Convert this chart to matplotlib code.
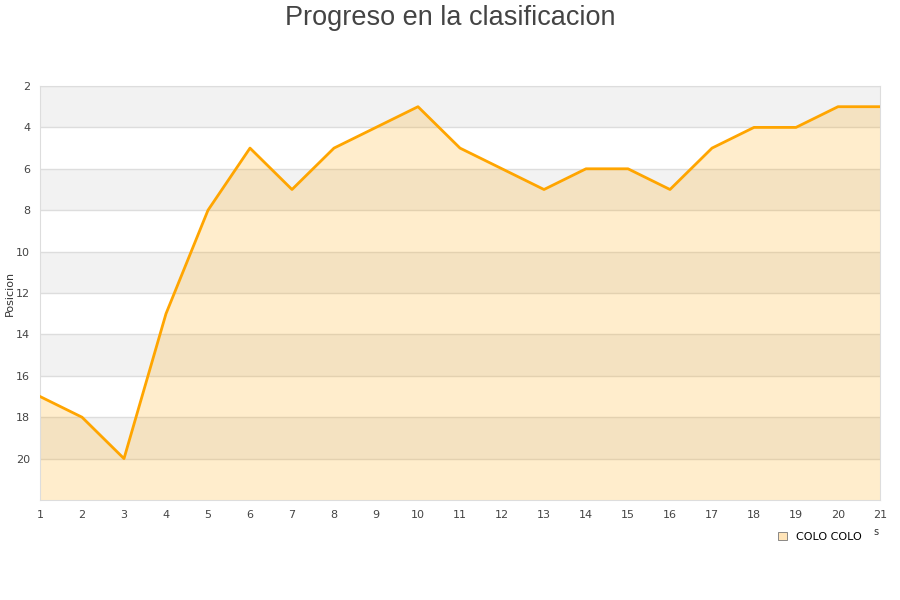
import matplotlib
matplotlib.use("Agg")
import matplotlib.pyplot as plt
from matplotlib.patches import Patch

# Jornadas y posicion de COLO COLO
jornadas = list(range(1, 22))
posicion = [17, 18, 20, 13, 8, 5, 7, 5, 4, 3, 5, 6, 7, 6, 6, 7, 5, 4, 4, 3, 3]
y_ticks = [2, 4, 6, 8, 10, 12, 14, 16, 18, 20]

fig = plt.figure(figsize=(9, 6), dpi=100)
ax = fig.add_axes([40 / 900, 1 - 500 / 600, 840 / 900, 414 / 600])

# alternating background bands
for k, lo in enumerate(range(2, 22, 2)):
    if k % 2 == 0:
        ax.axhspan(lo, lo + 2, color="#f2f2f2", zorder=0, lw=0)

ax.fill_between(jornadas, posicion, 22, color="#ffa500", alpha=0.2, lw=0, zorder=2)
ax.plot(jornadas, posicion, color="#ffa500", lw=2, zorder=3)

ax.set_xlim(1, 21)
ax.set_ylim(22, 2)
ax.set_xticks(jornadas)
ax.set_yticks(y_ticks)
ax.grid(axis="y", color="#dddddd", lw=1, zorder=1)
ax.tick_params(length=0, labelsize=8, colors="#444444", pad=7)
for s in ["top", "right", "bottom", "left"]:
    ax.spines[s].set_color("#dddddd")
ax.set_ylabel("Posicion", fontsize=8, color="#333333")
ax.yaxis.set_label_coords(-25 / 840, 0.5)

fig.text(0.5, 0.992, "Progreso en la clasificacion", ha="center", va="top",
         fontsize=19.5, color="#444444", family="Liberation Sans")

leg = fig.legend(handles=[Patch(facecolor="#ffe4b8", edgecolor="#777777", lw=0.6)],
                 labels=["COLO COLO"], loc="center", bbox_to_anchor=(0.911, 0.105),
                 frameon=False, fontsize=8, handlelength=0.8, handleheight=0.8)
fig.text(0.973, 0.108, "s", fontsize=7, color="#333333", ha="center")

fig.savefig("out.png", dpi=100)
